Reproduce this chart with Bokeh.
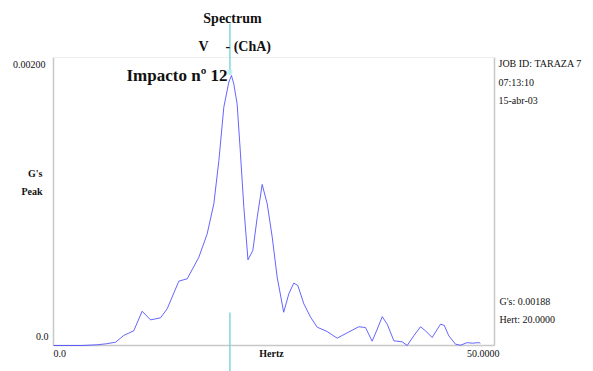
from bokeh.plotting import figure
from bokeh.models import Range1d, Label
from bokeh.embed import file_html
from bokeh.resources import INLINE
from bokeh.core.properties import value

# ---- data ----
hz = [0.0, 3.25, 4.95, 6.0, 7.03, 7.97, 9.1, 10.05, 11.0, 12.13, 12.89, 14.21,
      15.16, 16.48, 17.42, 18.18, 18.75, 19.31, 19.88, 20.18, 20.44, 20.82, 21.2,
      21.58, 22.05, 22.6, 23.1, 23.66, 24.23, 24.8, 25.36, 26.1, 26.68, 27.24,
      27.7, 28.38, 29.14, 29.9, 31.03, 32.16, 33.3, 34.61, 35.37, 36.13, 36.7,
      37.27, 37.84, 38.59, 39.53, 40.1, 40.85, 41.61, 42.18, 42.93, 43.88, 44.3,
      44.82, 45.58, 46.15, 46.9, 47.47, 48.22, 48.4]
gs = [0.0, 0.0, 0.000005, 0.000012, 0.000023, 0.00007, 0.000102, 0.000238,
      0.000178, 0.000192, 0.000255, 0.000447, 0.000463, 0.000613, 0.000775,
      0.000984, 0.001285, 0.001655, 0.001829, 0.001875, 0.001817, 0.001678,
      0.001331, 0.00096, 0.000595, 0.00066, 0.000891, 0.001118, 0.000984,
      0.000752, 0.000474, 0.000231, 0.000359, 0.000433, 0.000417, 0.00029,
      0.000197, 0.000127, 0.0000972, 0.0000509, 0.000088, 0.00013, 0.000125,
      0.00003, 0.000113, 0.0002, 0.000148, 0.0000326, 0.0000255, 0.0, 0.0000672,
      0.00013, 0.000102, 0.0000556, 0.000148, 0.00014, 0.0000672, 0.000009,
      0.000002, 0.00002, 0.000016, 0.00002, 0.000016]

x_ticks = [0.0, 50.0]
x_tick_labels = ["0.0", "50.0000"]
y_ticks = [0.0, 0.002]
y_tick_labels = ["0.0", "0.00200"]
cursor_hz = 20.0
cursor_gs = 0.00188
x_max = 50.0
y_max = 0.002

W, H = 593, 371
# frame in screen pixels
FL, FR, FT, FB = 53, 494, 57, 345
pxx = (FR - FL) / x_max
pxy = (FB - FT) / y_max

def sx(px):
    return (px - FL) / pxx

def sy(py):
    return (FB - py) / pxy

p = figure(width=W, height=H, output_backend="svg", toolbar_location=None,
           x_axis_location=None, y_axis_location=None,
           x_range=Range1d(sx(0), sx(W)), y_range=Range1d(sy(H), sy(0)),
           min_border=0, outline_line_color=None)
p.grid.visible = False
p.background_fill_color = "white"
p.border_fill_color = "white"

# frame
p.segment(x0=[0, 0, x_max], y0=[0, 0, 0], x1=[0, x_max, x_max], y1=[y_max, 0, y_max],
          line_color="#c8c8c8", line_width=1.5)
p.segment(x0=[0], y0=[y_max], x1=[x_max], y1=[y_max], line_color="#eeeeee", line_width=1)

# spectrum line
p.line(hz, gs, line_color="#4a4aff", line_width=1, line_alpha=0.85, line_join="round")

# cursor
p.segment(x0=[cursor_hz, cursor_hz], y0=[sy(23), sy(312)],
          x1=[cursor_hz, cursor_hz], y1=[cursor_gs, sy(H)],
          line_color="#7fd8d8", line_width=1.5)
p.scatter([cursor_hz], [cursor_gs + 0.00002], marker="square", size=5,
          fill_color="#bff0f0", line_color=None, alpha=0.8)

FONT = "Liberation Serif"

# tick labels
p.text(x=[x_ticks[0]], y=[sy(353)], text=[x_tick_labels[0]], text_font=value(FONT),
       text_font_size="10px", text_align="left", text_baseline="middle", text_color="#111111")
p.text(x=[x_ticks[1]], y=[sy(353)], text=[x_tick_labels[1]], text_font=value(FONT),
       text_font_size="10px", text_align="right", text_baseline="middle", text_color="#111111",
       x_offset=5)
p.text(x=[sx(48)], y=[y_ticks[0] + sy(336)], text=[y_tick_labels[0]], text_font=value(FONT),
       text_font_size="10px", text_align="right", text_baseline="middle", text_color="#111111")
p.text(x=[sx(45)], y=[y_ticks[1] - (sy(57) - sy(64))], text=[y_tick_labels[1]], text_font=value(FONT),
       text_font_size="10px", text_align="right", text_baseline="middle", text_color="#111111")

def lab(txt, x, y, size="10px", align="left", style="normal"):
    p.add_layout(Label(x=x, y=H - y, x_units="screen", y_units="screen", text=txt,
                       text_font=FONT, text_font_size=size, text_align=align,
                       text_baseline="middle", text_font_style=style, text_color="#111111"))

lab("Spectrum", 232, 18, "14px", "center", "bold")
lab("V", 203, 46, "14px", "center", "bold")
lab("- (ChA)", 225, 46, "14px", "left", "bold")
lab("Impacto nº 12", 227, 75, "17px", "right", "bold")
lab("JOB ID: TARAZA 7", 498, 63)
lab("07:13:10", 498, 82)
lab("15-abr-03", 498, 100)
lab("G's", 42, 173, "10px", "right", "bold")
lab("Peak", 42, 191, "10px", "right", "bold")
lab("G's: 0.00188", 499, 301)
lab("Hert: 20.0000", 499, 319)
lab("Hertz", 271, 353, "10px", "center", "bold")

open("out.html", "w").write(file_html(p, INLINE))
